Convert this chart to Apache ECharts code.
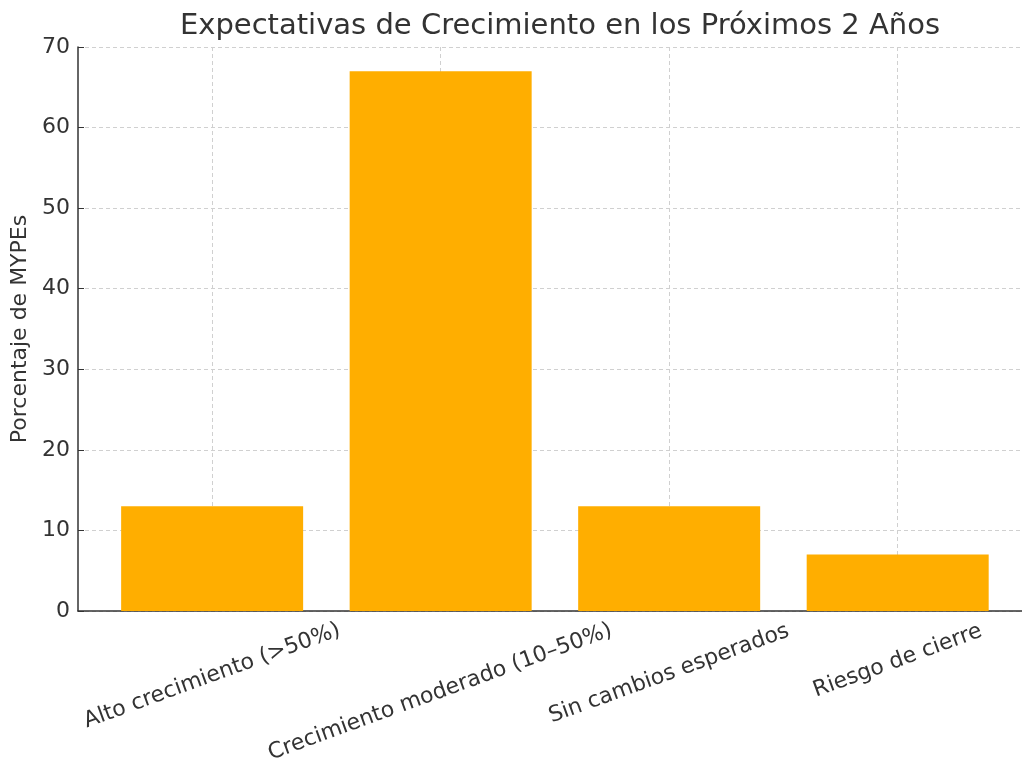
<!DOCTYPE html>
<html>
<head>
<meta charset="utf-8">
<script src="https://cdn.jsdelivr.net/npm/echarts@6/dist/echarts.min.js"></script>
<style>
  html, body { margin: 0; padding: 0; background: #fff; }
  #main { width: 1022px; height: 760px; }
</style>
</head>
<body>
<div id="main"></div>
<script>
var categories = ['Alto crecimiento (>50%)', 'Crecimiento moderado (10–50%)', 'Sin cambios esperados', 'Riesgo de cierre'];
var values = [13, 67, 13, 7];
var yTicks = [0, 10, 20, 30, 40, 50, 60, 70];

var textColor = '#333333';
var font = 'DejaVu Sans';

// matplotlib-like: rotated label box top stays at same distance from the axis,
// so longer labels need their centre pushed down a bit
var labelPad = ['a', 'b', 'c', 'd'];

var chart = echarts.init(document.getElementById('main'));

var option = {
  animation: false,
  title: {
    text: 'Expectativas de Crecimiento en los Próximos 2 Años',
    left: 555,
    textAlign: 'center',
    top: 7,
    textStyle: { fontFamily: font, fontSize: 29, fontWeight: 'normal', color: textColor }
  },
  grid: { left: 78, right: 0, top: 47, bottom: 149, containLabel: false, outerBoundsMode: 'none' },
  xAxis: {
    type: 'value',
    min: -0.587,
    max: 3.544,
    axisLine: { show: true, onZero: false, lineStyle: { color: textColor, width: 1.5 } },
    axisTick: { show: true, inside: true, length: 6, customValues: [0, 1, 2, 3], lineStyle: { color: textColor } },
    splitLine: { show: true, customValues: [0, 1, 2, 3], lineStyle: { type: [4, 3], color: '#d0d0d0' } },
    axisLabel: {
      customValues: [0, 1, 2, 3],
      rotate: 20,
      align: 'center',
      verticalAlign: 'middle',
      margin: 50,
      fontFamily: font,
      fontSize: 22,
      color: textColor,
      formatter: function (v) {
        var i = Math.round(v);
        return '{' + labelPad[i] + '|' + categories[i] + '}';
      },
      rich: {
        a: { fontFamily: font, fontSize: 22, color: textColor, padding: [28, 10, 0, 0] },
        b: { fontFamily: font, fontSize: 22, color: textColor, padding: [58, 22, 0, 0] },
        c: { fontFamily: font, fontSize: 22, color: textColor, padding: [24, 9, 0, 0] },
        d: { fontFamily: font, fontSize: 22, color: textColor, padding: [0, 0, 0, 0] }
      }
    }
  },
  yAxis: {
    type: 'value',
    min: 0,
    max: 70,
    interval: 10,
    name: 'Porcentaje de MYPEs',
    nameLocation: 'middle',
    nameGap: 41,
    nameTextStyle: { fontFamily: font, fontSize: 22, color: textColor },
    axisLine: { show: true, onZero: false, lineStyle: { color: textColor, width: 1.5 } },
    axisTick: { show: true, inside: true, length: 6, lineStyle: { color: textColor } },
    splitLine: { show: true, lineStyle: { type: [4, 3], color: '#d0d0d0' } },
    axisLabel: {
      margin: 8,
      fontFamily: font,
      fontSize: 22,
      color: textColor,
      formatter: function (v) { return yTicks.indexOf(v) >= 0 ? String(v) : ''; }
    }
  },
  series: [{
    type: 'bar',
    data: values.map(function (v, i) { return [i, v]; }),
    barWidth: 182,
    itemStyle: { color: '#ffae00' }
  }]
};

chart.setOption(option);
</script>
</body>
</html>
